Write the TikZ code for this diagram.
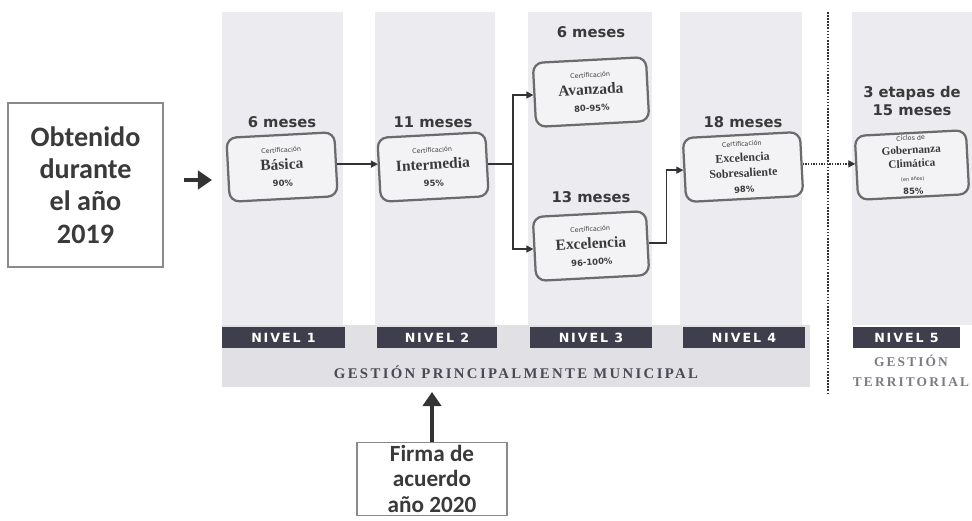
\documentclass[tikz,border=0pt]{standalone}
\usepackage{fontspec}
\setmainfont{Carlito}
\newfontfamily\etiq{DejaVu Sans}
\newfontfamily\serifa{Liberation Serif}
\newfontfamily\barfont[LetterSpace=15]{DejaVu Sans}
\newfontfamily\gestfont[LetterSpace=16]{Liberation Serif}
\usetikzlibrary{arrows.meta}
\definecolor{certline}{HTML}{6B6B6B}
\definecolor{certfill}{HTML}{F3F3F5}
\definecolor{textgray}{HTML}{3A3A3A}
\definecolor{boxline}{HTML}{8A8A8A}
\definecolor{arrowgray}{HTML}{333333}
\definecolor{bandgray}{HTML}{ECECF0}
\definecolor{stripgray}{HTML}{E0E0E5}
\definecolor{barcolor}{HTML}{3E3E4C}
\definecolor{gestgray}{HTML}{4A4A55}
\definecolor{gestlight}{HTML}{7A7A82}
\newcommand\NivelCol[6]{%
    \fill[bandgray] (#1,12) rectangle (#2,325);
    \fill[barcolor] (#3,327) rectangle (#4,348);
    \node[nivel] (#6) at ({(#3+#4)/2},337.5) {#5};
}
\newcommand\Cert[3]{%
    {\etiq\fontsize{4.5}{5.5}\selectfont #1}\\
    {\serifa\bfseries\fontsize{11}{12}\selectfont #2}\\
    {\etiq\bfseries\fontsize{6}{7}\selectfont #3}%
}

\begin{document}
\begin{tikzpicture}[x=0.025cm,y=-0.025cm,
    cert/.style={draw=certline, line width=1.6pt, fill=certfill, rounded corners=7pt,
        minimum width=2.7cm, minimum height=1.6cm, align=center, inner sep=1pt,
        text=textgray, rotate=3},
    meses/.style={font=\etiq\bfseries\fontsize{10.5}{12.5}\selectfont, text=textgray, align=center},
    nivel/.style={font=\barfont\bfseries\fontsize{9}{10}\selectfont, text=white},
    nota/.style={draw=boxline, line width=0.8pt, fill=white, align=center, text=textgray},
    bigarrow/.style={line width=3.5pt, draw=arrowgray, -{Triangle[width=13pt,length=10pt]}},
    thinarrow/.style={line width=0.9pt, draw=arrowgray, -{Triangle[width=5pt,length=5pt]}},
]
    \useasboundingbox (0,0) rectangle (972,520);
    % franja inferior y columnas
    \fill[stripgray] (222,325) rectangle (810,387);
    \NivelCol{222}{343}{222}{345}{NIVEL 1}{n1}
    \NivelCol{375}{495}{377}{497}{NIVEL 2}{n2}
    \NivelCol{528}{652}{530}{652}{NIVEL 3}{n3}
    \NivelCol{680}{802}{683}{805}{NIVEL 4}{n4}
    \NivelCol{852}{972}{853}{960}{NIVEL 5}{n5}
    \draw[densely dotted, line width=1.2pt, arrowgray] (828,12) -- (828,395);
    \node[font=\gestfont\bfseries\fontsize{10.5}{12}\selectfont, text=gestgray] (gestmun) at (516,372) {GESTIÓN PRINCIPALMENTE MUNICIPAL};
    \node[font=\gestfont\bfseries\fontsize{9.5}{14}\selectfont, text=gestlight, align=center] (gestter) at (911,371) {GESTIÓN\\TERRITORIAL};

    % certificaciones
    \node[cert] (basica) at (282,167) {\Cert{Certificación}{Básica}{90\%}};
    \node[cert] (intermedia) at (433,167) {\Cert{Certificación}{Intermedia}{95\%}};
    \node[cert, minimum width=2.83cm] (avanzada) at (591,92) {\Cert{Certificación}{Avanzada}{80-95\%}};
    \node[cert, minimum width=2.83cm] (excelencia) at (591,246) {\Cert{Certificación}{Excelencia}{96-100\%}};
    \node[cert, minimum width=2.93cm, font=\fontsize{4}{11}\selectfont] (sobresaliente) at (743,167) {%
        {\etiq\fontsize{4.5}{5}\selectfont Certificación}\\
        {\serifa\bfseries\fontsize{8.5}{9}\selectfont Excelencia}\\
        {\serifa\bfseries\fontsize{8.5}{9}\selectfont Sobresaliente}\\
        {\etiq\bfseries\fontsize{6}{6.5}\selectfont 98\%}};
    \node[cert, minimum width=2.78cm, font=\fontsize{4}{9.6}\selectfont] (ciclos) at (912,165) {%
        {\etiq\fontsize{4.5}{4.5}\selectfont Ciclos de}\\
        {\serifa\bfseries\fontsize{8}{8}\selectfont Gobernanza}\\
        {\serifa\bfseries\fontsize{8}{8}\selectfont Climática}\\
        {\etiq\fontsize{3.5}{3.5}\selectfont (en años)}\\
        {\etiq\bfseries\fontsize{6}{6}\selectfont 85\%}};

    % plazos
    \node[meses] (m1) at (282,122) {6 meses};
    \node[meses] (m2) at (433,122) {11 meses};
    \node[meses] (m3a) at (591,32) {6 meses};
    \node[meses] (m3b) at (591,197) {13 meses};
    \node[meses] (m4) at (743,122) {18 meses};
    \node[meses] (m5) at (912,101) {3 etapas de\\15 meses};

    % conexiones
    \draw[thinarrow] (basica.east) -- (basica.east -| intermedia.west);
    \draw[line width=0.9pt, arrowgray] (intermedia.east) -- (intermedia.east -| 513,0) coordinate (split);
    \draw[thinarrow] (split) |- (avanzada.west);
    \draw[thinarrow] (split) |- (excelencia.west);
    \draw[thinarrow] (excelencia.east) -- ++(18,0) |- (sobresaliente.west);
    \draw[thinarrow, densely dotted] (sobresaliente.east) -- (sobresaliente.east -| ciclos.west);

    % cuadros externos
    \node[nota, minimum width=3.875cm, minimum height=4.1cm,
        font=\bfseries\fontsize{20}{23}\selectfont] (obtenido) at (85.5,185) {Obtenido\\durante\\el año\\2019};
    \node[nota, anchor=north, minimum width=3.75cm, inner sep=2pt,
        font=\bfseries\fontsize{16.5}{18}\selectfont] (firma) at (432,442) {Firma de\\acuerdo\\año 2020};
    \coordinate (llegada) at (212,180);
    \draw[bigarrow] ([xshift=0.5cm]obtenido.east |- llegada) -- (llegada);
    \coordinate (franja) at (432,392);
    \draw[bigarrow] (firma.north) -- (franja);
\end{tikzpicture}
\end{document}
